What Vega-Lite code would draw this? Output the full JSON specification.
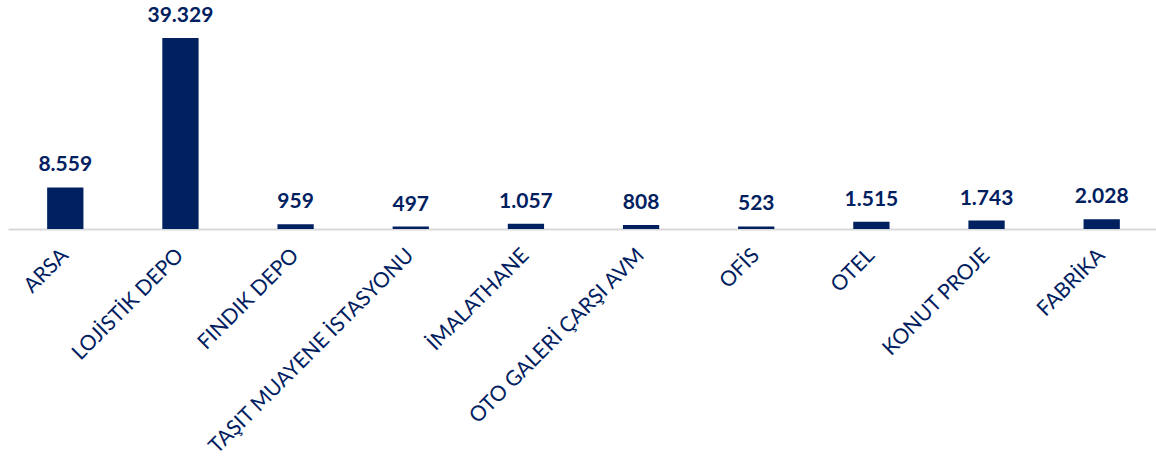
{
  "$schema": "https://vega.github.io/schema/vega-lite/v6.json",
  "autosize": "none",
  "width": 1151,
  "height": 191,
  "padding": {"left": 8, "top": 38, "right": 0, "bottom": 235},
  "background": "white",
  "config": {
    "view": {"stroke": null},
    "locale": {"number": {"decimal": ",", "thousands": ".", "grouping": [3], "currency": ["", ""]}}
  },
  "data": {"values": [
    {"kategori": "ARSA", "deger": 8559},
    {"kategori": "LOJİSTİK DEPO", "deger": 39329},
    {"kategori": "FINDIK DEPO", "deger": 959},
    {"kategori": "TAŞIT MUAYENE İSTASYONU", "deger": 497},
    {"kategori": "İMALATHANE", "deger": 1057},
    {"kategori": "OTO GALERİ ÇARŞI AVM", "deger": 808},
    {"kategori": "OFİS", "deger": 523},
    {"kategori": "OTEL", "deger": 1515},
    {"kategori": "KONUT PROJE", "deger": 1743},
    {"kategori": "FABRİKA", "deger": 2028}
  ]},
  "encoding": {
    "x": {
      "field": "kategori", "type": "nominal", "sort": null,
      "scale": {"paddingInner": 0.685, "paddingOuter": 0.34},
      "axis": {
        "title": null, "labelAngle": -45, "labelAlign": "right", "labelBaseline": "middle",
        "labelFont": "Lato", "labelFontSize": 21, "labelColor": "#002060",
        "labelPadding": 23, "labelDx": 3, "ticks": false, "domainColor": "#d9d9d9", "domainWidth": 2,
        "labelLimit": 500, "labelOverlap": false
      }
    },
    "y": {
      "field": "deger", "type": "quantitative",
      "scale": {"domain": [0, 39329], "nice": false},
      "axis": null
    }
  },
  "layer": [
    {"mark": {"type": "bar", "color": "#002060"}},
    {
      "mark": {"type": "text", "font": "Lato", "fontWeight": "bold", "fontSize": 21, "color": "#002060", "baseline": "alphabetic", "dy": -16},
      "encoding": {"text": {"field": "deger", "type": "quantitative", "format": ",d"}}
    }
  ]
}
